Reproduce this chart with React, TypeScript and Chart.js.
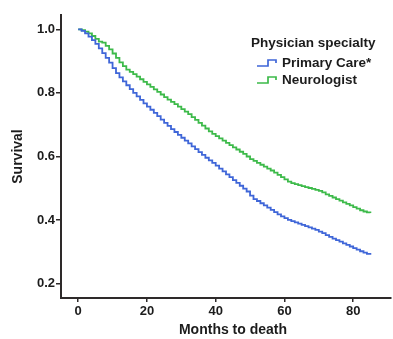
import React, { useEffect, useRef } from "react";
import { Chart, registerables } from "chart.js";

Chart.register(...registerables);

const months: number[] = Array.from({ length: 86 }, (_, i) => i);

const primaryCare: number[] = [
  1.0, 0.995, 0.987, 0.977, 0.966, 0.954, 0.94, 0.925, 0.91, 0.895,
  0.878, 0.862, 0.849, 0.836, 0.824, 0.812, 0.8, 0.789, 0.778, 0.767,
  0.757, 0.747, 0.737, 0.727, 0.716, 0.706, 0.696, 0.686, 0.677, 0.668,
  0.659, 0.65, 0.641, 0.632, 0.623, 0.614, 0.605, 0.596, 0.588, 0.58,
  0.571, 0.562, 0.553, 0.544, 0.535, 0.526, 0.517, 0.508, 0.499, 0.49,
  0.477, 0.466, 0.46, 0.453, 0.446, 0.439, 0.432, 0.425, 0.418, 0.412,
  0.406, 0.401, 0.397, 0.393, 0.389, 0.385, 0.381, 0.377, 0.373, 0.369,
  0.364, 0.359, 0.353, 0.347, 0.342, 0.337, 0.332, 0.327, 0.322, 0.317,
  0.312, 0.307, 0.302, 0.298, 0.294, 0.291,
];

const neurologist: number[] = [
  1.0, 0.997, 0.993, 0.987, 0.979, 0.97, 0.961, 0.958, 0.948, 0.937,
  0.924, 0.91, 0.896, 0.884, 0.873, 0.866, 0.859, 0.851, 0.843, 0.835,
  0.827, 0.819, 0.811, 0.803, 0.795, 0.787, 0.779, 0.772, 0.765, 0.757,
  0.749, 0.741, 0.733, 0.724, 0.715, 0.706, 0.697, 0.688, 0.679, 0.671,
  0.664, 0.657, 0.65, 0.643, 0.636, 0.629, 0.622, 0.615, 0.608, 0.6,
  0.592, 0.586, 0.58, 0.574, 0.568, 0.562, 0.556, 0.549, 0.542, 0.535,
  0.528, 0.521, 0.516, 0.513, 0.51, 0.507, 0.504, 0.501, 0.498, 0.495,
  0.492, 0.487, 0.481, 0.476, 0.471, 0.466, 0.461, 0.456, 0.451, 0.446,
  0.441, 0.436, 0.431, 0.427, 0.424, 0.422,
];

const xTicks: number[] = [0, 20, 40, 60, 80];
const yTicks: number[] = [0.2, 0.4, 0.6, 0.8, 1.0];

const seriesNames: string[] = ["Primary Care*", "Neurologist"];
const seriesColors: string[] = ["#3f66d8", "#3dba4a"];
const legendTitle = "Physician specialty";
const xTitle = "Months to death";
const yTitle = "Survival";

const FONT = '"Liberation Sans", Arial, sans-serif';
const INK = "#1c1c1c";
const AXIS = "#2e2a2a";

const overlayPlugin = {
  id: "kmOverlay",
  afterDraw(chart: any) {
    const ctx = chart.ctx as CanvasRenderingContext2D;
    ctx.save();
    ctx.fillStyle = INK;
    ctx.textBaseline = "middle";
    ctx.textAlign = "center";
    ctx.font = `bold 14px ${FONT}`;
    ctx.fillText(xTitle, 233, 330);
    ctx.textAlign = "left";
    ctx.font = `bold 13.5px ${FONT}`;
    ctx.fillText(legendTitle, 251, 43);
    const rows = [63, 80];
    seriesNames.forEach((name, i) => {
      const y = rows[i];
      const x0 = 257;
      ctx.strokeStyle = seriesColors[i];
      ctx.lineWidth = 1.7;
      ctx.beginPath();
      ctx.moveTo(x0, y + 3);
      ctx.lineTo(x0 + 11, y + 3);
      ctx.lineTo(x0 + 11, y - 3);
      ctx.lineTo(x0 + 19, y - 3);
      ctx.lineTo(x0 + 19, y);
      ctx.stroke();
      ctx.fillStyle = INK;
      ctx.fillText(name, 282, y);
    });
    ctx.restore();
  },
};

export default function App() {
  const ref = useRef<HTMLCanvasElement | null>(null);

  useEffect(() => {
    if (!ref.current) return;
    const chart = new Chart(ref.current, {
      type: "line",
      data: {
        datasets: [primaryCare, neurologist].map((vals, i) => ({
          label: seriesNames[i],
          data: months.map((m, j) => ({ x: m, y: vals[j] })),
          borderColor: seriesColors[i],
          backgroundColor: seriesColors[i],
          borderWidth: 1.8,
          pointRadius: 0,
          stepped: true,
          fill: false,
        })),
      },
      options: {
        animation: false,
        responsive: false,
        events: [],
        layout: { padding: { top: 15, right: 2, left: 0, bottom: 0 } },
        plugins: {
          legend: { display: false },
          tooltip: { enabled: false },
        },
        scales: {
          x: {
            type: "linear",
            min: -5,
            max: 91,
            afterBuildTicks: (s: any) => {
              s.ticks = xTicks.map((v) => ({ value: v }));
            },
            afterFit: (s: any) => {
              s.height = 41;
            },
            ticks: {
              color: INK,
              font: { family: FONT, size: 13, weight: "bold" },
              padding: 2,
              maxRotation: 0,
              callback: (v: any) => String(v),
            },
            grid: {
              drawOnChartArea: false,
              drawTicks: true,
              tickLength: 4,
              color: AXIS,
              lineWidth: 1.5,
            },
            border: { display: true, color: AXIS, width: 2 },
            title: { display: false },
          },
          y: {
            type: "linear",
            min: 0.155,
            max: 1.045,
            afterBuildTicks: (s: any) => {
              s.ticks = yTicks.map((v) => ({ value: v }));
            },
            afterFit: (s: any) => {
              s.width = 61;
            },
            ticks: {
              color: INK,
              font: { family: FONT, size: 13, weight: "bold" },
              padding: 1,
              callback: (v: any) => Number(v).toFixed(1),
            },
            grid: {
              drawOnChartArea: false,
              drawTicks: true,
              tickLength: 5,
              color: AXIS,
              lineWidth: 1.5,
            },
            border: { display: true, color: AXIS, width: 2 },
            title: {
              display: true,
              text: yTitle,
              color: INK,
              font: { family: FONT, size: 14, weight: "bold" },
              padding: { top: 10, bottom: 0 },
            },
          },
        },
      },
      plugins: [overlayPlugin],
    });
    return () => chart.destroy();
  }, []);

  return (
    <div style={{ position: "fixed", left: 0, top: 0, width: 393, height: 339, background: "#fff" }}>
      <canvas ref={ref} width={393} height={339} style={{ display: "block" }} />
    </div>
  );
}
